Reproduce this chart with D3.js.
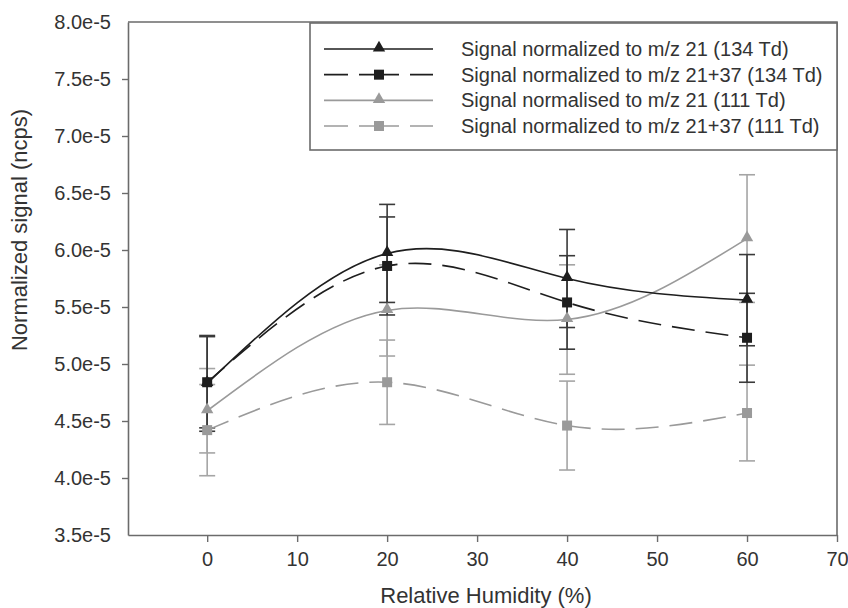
<!DOCTYPE html>
<html>
<head>
<meta charset="utf-8">
<script src="https://cdn.jsdelivr.net/npm/d3@7"></script>
<style>
  body { margin: 0; background: #fff; }
  text { font-family: "Liberation Sans", Arial, sans-serif; fill: #333; }
</style>
</head>
<body>
<svg width="848" height="608"></svg>
<script>
// data
var humidity = [0, 20, 40, 60];
var xTicks = [0, 10, 20, 30, 40, 50, 60, 70];
var yTicks = [3.5e-5, 4.0e-5, 4.5e-5, 5.0e-5, 5.5e-5, 6.0e-5, 6.5e-5, 7.0e-5, 7.5e-5, 8.0e-5];

var names = [
    "Signal normalized to m/z 21 (134 Td)",
    "Signal normalized to m/z 21+37 (134 Td)",
    "Signal normalised to m/z 21 (111 Td)",
    "Signal normalized to m/z 21+37 (111 Td)"
];
var sig21_134 = [4.83e-5, 5.97e-5, 5.75e-5, 5.56e-5];
var sig2137_134 = [4.84e-5, 5.86e-5, 5.54e-5, 5.23e-5];
var sig21_111 = [4.59e-5, 5.47e-5, 5.39e-5, 6.10e-5];
var sig2137_111 = [4.42e-5, 4.84e-5, 4.46e-5, 4.57e-5];

var err21_134 = [0.42e-5, 0.43e-5, 0.43e-5, 0.40e-5];
var err2137_134 = [0.40e-5, 0.43e-5, 0.41e-5, 0.39e-5];
var err21_111 = [0.37e-5, 0.40e-5, 0.48e-5, 0.56e-5];
var err2137_111 = [0.40e-5, 0.37e-5, 0.39e-5, 0.42e-5];

var series = [
    { name: names[0], values: sig21_134, err: err21_134, color: "#1e1e1e", errColor: "#3a3a3a", dash: null, marker: "tri" },
    { name: names[1], values: sig2137_134, err: err2137_134, color: "#1e1e1e", errColor: "#3a3a3a", dash: "23,11", marker: "sq" },
    { name: names[2], values: sig21_111, err: err21_111, color: "#9a9a9a", errColor: "#a5a5a5", dash: null, marker: "tri" },
    { name: names[3], values: sig2137_111, err: err2137_111, color: "#9a9a9a", errColor: "#a5a5a5", dash: "23,11", marker: "sq" }
];

var svg = d3.select("svg");
var plotLeft = 128, plotRight = 837, plotTop = 22, plotBottom = 535;

var x = d3.scaleLinear().domain([-8.8, 70]).range([plotLeft, plotRight]);
var y = d3.scaleLinear().domain([3.5e-5, 8.0e-5]).range([plotBottom, plotTop]);

var frameColor = "#6b6b6b";

// axes
var xAxis = svg.append("g")
    .attr("transform", "translate(0," + plotBottom + ")")
    .call(d3.axisBottom(x).tickValues(xTicks).tickSizeInner(7).tickSizeOuter(0).tickPadding(10).tickFormat(d3.format("d")));
var yAxis = svg.append("g")
    .attr("transform", "translate(" + plotLeft + ",0)")
    .call(d3.axisLeft(y).tickValues(yTicks).tickSizeInner(6).tickSizeOuter(0).tickPadding(11)
        .tickFormat(function (d) { return (d * 1e5).toFixed(1) + "e-5"; }));

[xAxis, yAxis].forEach(function (a) {
    a.select(".domain").attr("stroke", frameColor).attr("stroke-width", 1.6);
    a.selectAll(".tick line").attr("stroke", frameColor).attr("stroke-width", 1.4);
    a.selectAll(".tick text").style("font-size", "20px").attr("fill", "#333");
});
// no tick marks at the frame corners of the y axis
yAxis.selectAll(".tick").filter(function (d) { return d === yTicks[0] || d === yTicks[yTicks.length - 1]; })
    .select("line").remove();

// frame top and right
svg.append("path")
    .attr("d", "M" + plotLeft + "," + plotTop + "H" + plotRight + "V" + plotBottom)
    .attr("fill", "none").attr("stroke", frameColor).attr("stroke-width", 1.6);

svg.append("text")
    .attr("x", 486).attr("y", 603)
    .attr("text-anchor", "middle")
    .style("font-size", "22px")
    .text("Relative Humidity (%)");

svg.append("text")
    .attr("transform", "translate(27," + 230 + ") rotate(-90)")
    .attr("text-anchor", "middle")
    .style("font-size", "22px")
    .text("Normalized signal (ncps)");

var line = d3.line()
    .x(function (d, i) { return x(humidity[i]); })
    .y(function (d) { return y(d); })
    .curve(d3.curveNatural);

function drawMarker(g, type, cx, cy, color) {
    if (type === "tri") {
        g.append("path")
            .attr("d", d3.symbol().type(d3.symbolTriangle).size(66)())
            .attr("transform", "translate(" + cx + "," + (cy - 1) + ")")
            .attr("fill", color);
    } else {
        g.append("rect")
            .attr("x", cx - 5).attr("y", cy - 5)
            .attr("width", 10).attr("height", 10)
            .attr("fill", color);
    }
}

var plot = svg.append("g");

// error bars first (light ones behind dark ones)
series.slice().reverse().forEach(function (s) {
    var g = plot.append("g");
    s.values.forEach(function (v, i) {
        var cx = x(humidity[i]);
        var hi = y(v + s.err[i]), lo = y(v - s.err[i]);
        g.append("line").attr("x1", cx).attr("x2", cx).attr("y1", hi).attr("y2", lo)
            .attr("stroke", s.errColor).attr("stroke-width", 1.6);
        [hi, lo].forEach(function (yy) {
            g.append("line").attr("x1", cx - 8).attr("x2", cx + 8).attr("y1", yy).attr("y2", yy)
                .attr("stroke", s.errColor).attr("stroke-width", 1.6);
        });
    });
});

series.slice().reverse().forEach(function (s) {
    var g = plot.append("g");
    g.append("path")
        .datum(s.values)
        .attr("d", line)
        .attr("fill", "none")
        .attr("stroke", s.color)
        .attr("stroke-width", 1.6)
        .attr("stroke-dasharray", s.dash);
    s.values.forEach(function (v, i) {
        drawMarker(g, s.marker, x(humidity[i]), y(v), s.color);
    });
});

// legend
var legend = svg.append("g");
legend.append("rect")
    .attr("x", 310).attr("y", plotTop + 1)
    .attr("width", plotRight - 310).attr("height", 150 - plotTop - 1)
    .attr("fill", "#fff").attr("stroke", frameColor).attr("stroke-width", 1.6);

var rowY = d3.scaleLinear().domain([0, 3]).range([49, 126]);
series.forEach(function (s, i) {
    var yy = rowY(i);
    legend.append("line")
        .attr("x1", 324).attr("x2", 433).attr("y1", yy).attr("y2", yy)
        .attr("stroke", s.color).attr("stroke-width", 1.6)
        .attr("stroke-dasharray", s.dash ? "24,11,40,11,24" : null);
    drawMarker(legend, s.marker, 379, yy, s.color);
    legend.append("text")
        .attr("x", 461).attr("y", yy)
        .attr("dy", "0.35em")
        .style("font-size", "20px")
        .text(s.name);
});
</script>
</body>
</html>
